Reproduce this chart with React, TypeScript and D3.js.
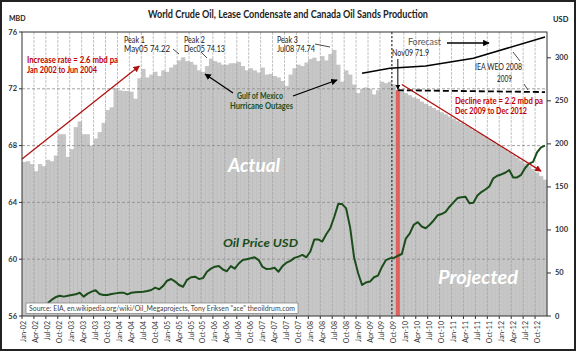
import * as d3 from 'd3'

// months Jan-02 .. Dec-12
const years = d3.range(2002, 2013)
const monthNames = ['Jan', 'Feb', 'Mar', 'Apr', 'May', 'Jun', 'Jul', 'Aug', 'Sep', 'Oct', 'Nov', 'Dec']
const months = years.flatMap(y => monthNames.map(m => `${m}-${String(y).slice(2)}`))

// crude + condensate + oil sands, mbd
const production = [
  66.85, 66.9, 66.7, 66.2, 66.7, 66.55, 67.0, 66.9, 67.3, 68.8, 68.8, 67.2,
  67.75, 69.3, 69.7, 68.8, 68.8, 68.0, 68.5, 68.95, 69.6, 70.5, 70.7, 72.05,
  71.9, 71.85, 71.85, 71.8, 71.3, 72.75, 73.4, 72.8, 73.0, 73.2, 72.9, 73.3,
  73.2, 73.5, 73.7, 74.0, 74.22, 73.95, 73.9, 73.7, 73.3, 73.2, 73.6, 74.13,
  73.95, 73.85, 73.7, 73.7, 73.8, 73.8, 73.9, 73.6, 73.3, 73.45, 73.3, 73.15,
  73.5, 73.0, 73.05, 72.9, 72.8, 72.55, 72.2, 73.0, 73.45, 73.7, 73.6, 73.85,
  74.1, 74.2, 73.95, 74.3, 74.0, 74.45, 74.74, 73.7, 72.5, 73.3, 73.0, 72.3,
  71.7, 72.0, 72.1, 72.0, 71.6, 71.9, 72.5, 72.4, 72.5, 72.3, 71.9, 71.85,
  71.7, 71.55, 71.4, 71.3, 71.1, 70.95, 70.8, 70.65, 70.5, 70.35, 70.2, 70.05,
  69.9, 69.75, 69.6, 69.45, 69.3, 69.1, 68.95, 68.8, 68.6, 68.45, 68.3, 68.1,
  67.95, 67.75, 67.55, 67.35, 67.15, 66.95, 66.75, 66.55, 66.35, 66.1, 65.85, 65.6,
]
const highlightMonth = 'Nov-09'
const splitMonth = 'Sep-09'

// oil price USD, from Jul-02
const priceStart = 'Jul-02'
const price = [
  15, 19, 22, 23.6, 22.5, 23.5,
  24.5, 25.2, 27, 22.5, 26, 28.3, 30, 25.6, 24.5, 24.4, 25.5, 26.3,
  27, 27.1, 25.2, 27, 27.5, 28, 28.3, 29, 30.2, 32.9, 31, 35,
  41, 43, 40, 36, 34, 42, 45, 45.7, 43, 44, 51.5, 55,
  57.3, 58, 54, 52, 58, 55, 61, 65, 66, 67, 68.2, 65,
  57, 54.5, 55, 56, 51.5, 58, 62, 64, 67.5, 69, 71, 68.2,
  75, 89, 89, 86.5, 95, 102, 115, 130, 130, 125, 103, 68,
  50, 36, 39, 40, 45, 47, 57, 65, 67, 67.5, 70, 72,
  90, 96, 106, 109, 104, 102, 106, 111, 117, 118.5, 121, 127,
  132, 137, 138, 138.6, 131, 131.6, 140, 144, 147, 150.5, 160, 163,
  164.5, 166.5, 169.6, 161, 161, 164, 172, 177, 179, 190, 196, 198,
]

// IEA WEO 2008 forecast (mbd)
const ieaMonths = ['Feb-09', 'Sep-09', 'Jun-10', 'Jun-11', 'Dec-12']
const ieaValues = [73.1, 73.45, 73.6, 74.15, 75.65]
// IEA WEO 2009 flat line
const weo09Months = ['Nov-09', 'Dec-12']
const weo09Values = [71.9, 71.77]

// rate arrows
const incMonths = ['Jan-02', 'Jun-04']
const incValues = [67.05, 73.6]
const decMonths = ['Dec-09', 'Nov-12']
const decValues = [72.3, 66.2]

const leftTicks = [56, 60, 64, 68, 72, 76]
const rightTicks = [0, 50, 100, 150, 200, 250, 300]

const W = 576
const H = 351
const m = { left: 22, right: 547, top: 32, bottom: 316 }
const FONT = 'Lato, "Open Sans", sans-serif'

function T({ x, y, w, children, ...rest }: any) {
  return (
    <text x={x} y={y} textLength={w} lengthAdjust="spacingAndGlyphs" {...rest}>{children}</text>
  )
}

export default function App() {
  const x = d3.scaleBand().domain(months).range([m.left, m.right]).padding(0)
  const cx = (k: string) => (x(k) ?? 0) + x.bandwidth() / 2
  const yL = d3.scaleLinear().domain([56, 76]).range([m.bottom, m.top])
  const yR = d3.scaleLinear().domain([0, 330]).range([m.bottom, m.top])

  const quarterIdx = d3.range(0, months.length, 3)
  const priceOffset = months.indexOf(priceStart)
  const priceLine = d3.line<number>()
    .x((_, i) => cx(months[i + priceOffset]))
    .y(d => yR(d))
  const lineL = d3.line<[string, number]>().x(d => cx(d[0])).y(d => yL(d[1]))

  const iea = lineL(ieaMonths.map((k, i) => [k, ieaValues[i]]))
  const weo09 = lineL(weo09Months.map((k, i) => [k, weo09Values[i]]))
  const splitX = x(splitMonth)! + x.bandwidth()
  const hiX = cx(highlightMonth)
  const hiV = production[months.indexOf(highlightMonth)]

  return (
    <svg width={W} height={H} style={{ position: 'absolute', left: 0, top: 0, background: '#fff' }}
      fontFamily={FONT}>
      <defs>
        <marker id="arR" viewBox="0 0 10 10" refX="9" refY="5" markerWidth="5" markerHeight="5" orient="auto">
          <path d="M0,0L10,5L0,10z" fill="#b01010" />
        </marker>
        <marker id="arK" viewBox="0 0 10 10" refX="9" refY="5" markerWidth="5" markerHeight="5" orient="auto">
          <path d="M0,0L10,5L0,10z" fill="#000" />
        </marker>
      </defs>
      <rect x={1} y={1} width={W - 2} height={H - 2} fill="#fff" stroke="#222" strokeWidth={2} />

      <T x={148} y={18} w={280} fontSize={10.5} fontWeight="bold" fill="#222">
        World Crude Oil, Lease Condensate and Canada Oil Sands Production
      </T>
      <text x={9} y={21} fontSize={7} fontWeight="bold" fill="#222">MBD</text>
      <text x={553} y={22} fontSize={7.5} fontWeight="bold" fill="#222">USD</text>

      {/* vertical grid */}
      {quarterIdx.slice(1).map(i => (
        <line key={'vg' + i} x1={x(months[i])} x2={x(months[i])} y1={m.top} y2={m.bottom}
          stroke="#c4c4c4" strokeWidth={1} strokeDasharray="3,1" />
      ))}

      {/* bars */}
      {production.map((v, i) => (
        <rect key={'b' + i} x={x(months[i])} y={yL(v)} width={x.bandwidth() + 0.3} height={m.bottom - yL(v)}
          fill="#a0a0a0" fillOpacity={0.6} />
      ))}
      <rect x={x(highlightMonth)} y={yL(hiV)} width={x.bandwidth()} height={m.bottom - yL(hiV)} fill="#e0605c" />

      {/* horizontal grid */}
      {leftTicks.slice(1, -1).map(t => (
        <line key={'hg' + t} x1={m.left} x2={m.right} y1={yL(t)} y2={yL(t)}
          stroke="#8a8a8a" strokeWidth={0.8} strokeDasharray="3,2" />
      ))}

      {/* actual / projected split */}
      <line x1={splitX} x2={splitX} y1={m.top} y2={m.bottom} stroke="#222" strokeWidth={1} strokeDasharray="2,2" />

      <T x={228} y={172} w={52} fontSize={19} fontWeight="bold" fontStyle="italic" fill="#fff">Actual</T>
      <T x={438} y={284} w={80} fontSize={19} fontWeight="bold" fontStyle="italic" fill="#fff">Projected</T>

      {/* price */}
      <path d={priceLine(price) ?? ''} fill="none" stroke="#1b4d1b" strokeWidth={2} strokeLinejoin="round" />
      <T x={223} y={247} w={75} fontSize={11.5} fontWeight="bold" fontStyle="italic" fill="#1b4d1b">Oil Price USD</T>

      {/* IEA lines */}
      <path d={iea ?? ''} fill="none" stroke="#000" strokeWidth={1.5} />
      <path d={weo09 ?? ''} fill="none" stroke="#000" strokeWidth={1.8} strokeDasharray="6,3" />

      {/* rate arrows */}
      <line x1={m.left} y1={yL(incValues[0])} x2={cx(incMonths[1])} y2={yL(incValues[1])}
        stroke="#b01010" strokeWidth={1.3} markerEnd="url(#arR)" />
      <line x1={cx(decMonths[0])} y1={yL(decValues[0])} x2={cx(decMonths[1])} y2={yL(decValues[1])}
        stroke="#b01010" strokeWidth={1.3} markerEnd="url(#arR)" />

      {/* source box */}
      <rect x={26} y={303} width={272} height={10.5} fill="#fff" stroke="#888" strokeWidth={0.8} />
      <T x={29} y={311} w={266} fontSize={6.8} fill="#444">
        Source: EIA, en.wikipedia.org/wiki/Oil_Megaprojects, Tony Eriksen "ace" theoildrum.com
      </T>

      {/* frame & axes */}
      <rect x={m.left} y={m.top} width={m.right - m.left} height={m.bottom - m.top} fill="none" stroke="#333" strokeWidth={1} />
      {leftTicks.map(t => (
        <g key={'lt' + t}>
          <line x1={m.left - 3} x2={m.left} y1={yL(t)} y2={yL(t)} stroke="#333" />
          <text x={17} y={yL(t) + 2.5} textAnchor="end" fontSize={7.5} fontWeight="bold" fill="#333">{t}</text>
        </g>
      ))}
      {rightTicks.map(t => (
        <g key={'rt' + t}>
          <line x1={m.right} x2={m.right + 4} y1={yR(t)} y2={yR(t)} stroke="#333" />
          <text x={555} y={yR(t) + 2.5} fontSize={7.5} fontWeight="bold" fill="#333">{t}</text>
        </g>
      ))}
      {quarterIdx.map(i => (
        <g key={'xt' + i}>
          <line x1={x(months[i])} x2={x(months[i])} y1={m.bottom} y2={m.bottom + 3} stroke="#333" />
          <text transform={`translate(${cx(months[i]) + 2.5},${m.bottom + 5}) rotate(-90)`} textAnchor="end"
            fontSize={7} fill="#333">{months[i]}</text>
        </g>
      ))}

      {/* annotations */}
      <g fontSize={8.5} fill="#222">
        <T x={124} y={43} w={21}>Peak 1</T>
        <T x={124} y={52} w={46}>May05 74.22</T>
        <T x={184} y={43} w={21}>Peak 2</T>
        <T x={184} y={52} w={41}>Dec05 74.13</T>
        <T x={277} y={43} w={21}>Peak 3</T>
        <T x={277} y={52} w={38}>Jul08 74.74</T>
        <T x={392} y={56} w={37}>Nov09 71.9</T>
        <T x={475} y={70} w={47}>IEA WEO 2008</T>
        <T x={497} y={82} w={15}>2009</T>
        <T x={408} y={45} w={33} fill="#555">Forecast</T>
      </g>
      <line x1={173} y1={49} x2={179} y2={54} stroke="#222" strokeWidth={0.8} />
      <line x1={201} y1={52} x2={207} y2={58} stroke="#222" strokeWidth={0.8} />
      <line x1={315} y1={44} x2={330} y2={47} stroke="#222" strokeWidth={0.8} />
      <line x1={513} y1={52} x2={520} y2={61} stroke="#222" strokeWidth={0.8} />
      <line x1={524} y1={84} x2={528} y2={90} stroke="#222" strokeWidth={0.8} />
      <line x1={447} y1={43} x2={489} y2={43} stroke="#000" strokeWidth={1.3} markerEnd="url(#arK)" />
      <line x1={hiX} y1={59} x2={hiX} y2={yL(hiV) - 1} stroke="#000" strokeWidth={1} markerEnd="url(#arK)" />

      <g fontSize={8.5} fill="#c00000" fontWeight="bold">
        <T x={27} y={63} w={91}>Increase rate =  2.6 mbd pa</T>
        <T x={27} y={73} w={70}>Jan 2002 to Jun 2004</T>
        <T x={455} y={104} w={88}>Decline rate =  2.2 mbd pa</T>
        <T x={455} y={114} w={72}>Dec 2009 to Dec 2012</T>
      </g>

      <g fontSize={8.5} fontWeight="bold" fill="#1b4d1b">
        <T x={237} y={99} w={46}>Gulf of Mexico</T>
        <T x={230} y={109} w={63}>Hurricane Outages</T>
      </g>
      <line x1={233} y1={93} x2={205} y2={74} stroke="#000" strokeWidth={1.3} markerEnd="url(#arK)" />
      <line x1={293} y1={96} x2={337} y2={80} stroke="#000" strokeWidth={1.3} markerEnd="url(#arK)" />
    </svg>
  )
}
